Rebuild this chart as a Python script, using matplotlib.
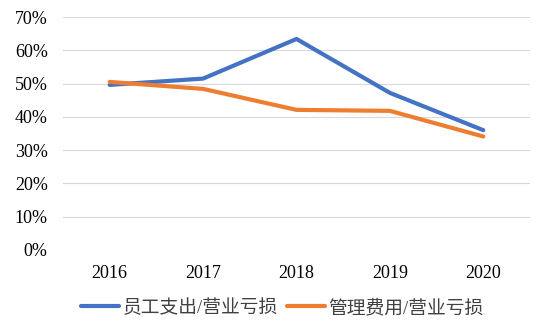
import matplotlib
matplotlib.use("Agg")
import matplotlib.pyplot as plt
from matplotlib.ticker import FuncFormatter

years = ["2016", "2017", "2018", "2019", "2020"]
staff_ratio = [49.6, 51.5, 63.4, 47.2, 36.0]
admin_ratio = [50.5, 48.4, 42.1, 41.8, 34.1]
series_names = ["员工支出/营业亏损", "管理费用/营业亏损"]
yticks = [0, 10, 20, 30, 40, 50, 60, 70]

fams = ["Liberation Serif", "Noto Sans CJK SC", "DejaVu Sans"]
plt.rcParams["font.family"] = fams

fig = plt.figure(figsize=(5.36, 3.23), dpi=100)
ax = fig.add_axes([63/536, 1-250/323, (530-63)/536, (250-17)/323])

x = list(range(len(years)))
ax.plot(x, staff_ratio, color="#4472C4", lw=3, label=series_names[0], solid_capstyle="round")
ax.plot(x, admin_ratio, color="#ED7D31", lw=3, label=series_names[1], solid_capstyle="round")

ax.set_xlim(-0.5, len(years) - 0.5)
ax.set_ylim(0, 70)
ax.set_yticks(yticks)
ax.yaxis.set_major_formatter(FuncFormatter(lambda v, p: f"{int(v)}%"))
ax.set_xticks(x)
ax.set_xticklabels(years)
ax.grid(axis="y", color="#D9D9D9", lw=0.8)
ax.set_axisbelow(True)
for s in ax.spines.values():
    s.set_visible(False)
ax.tick_params(length=0, labelsize=13, colors="#000000")
ax.tick_params(axis="x", pad=11)
ax.tick_params(axis="y", pad=11)

leg = fig.legend(loc="center", bbox_to_anchor=(0.527, 1-308/323), ncol=2, frameon=False,
                 fontsize=13.5, handlelength=2.0, handletextpad=0.2, columnspacing=0.5)
for t in leg.get_texts():
    t.set_color("#404040")

fig.savefig("out.png", dpi=100)
